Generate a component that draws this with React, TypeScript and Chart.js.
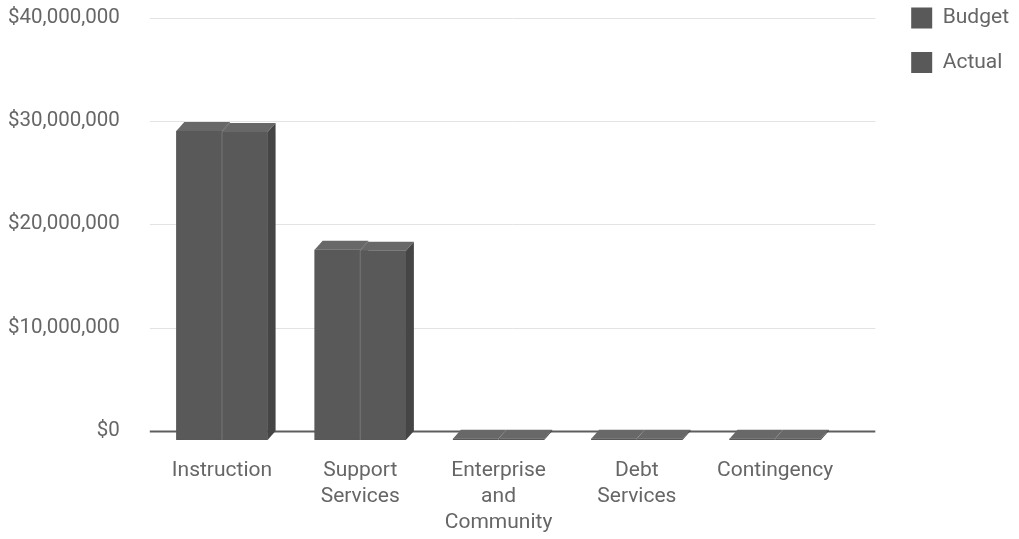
import React, { useEffect, useRef } from "react";
import { Chart, registerables } from "chart.js";

Chart.register(...registerables);

const categories: string[][] = [
  ["Instruction"],
  ["Support", "Services"],
  ["Enterprise", "and", "Community"],
  ["Debt", "Services"],
  ["Contingency"],
];
const seriesNames = ["Budget", "Actual"];
const budget = [29900000, 18400000, 120000, 120000, 120000];
const actual = [29800000, 18300000, 120000, 120000, 120000];
const yMin = 0;
const yMax = 40000000;
const yStep = 10000000;

const DX = 8;
const DY = 9;
const FRONT = "#595959";
const TOP = "#686868";
const SIDE = "#454545";
const TEXT = "#666666";
const FONT = "Roboto";
const LEGEND_SHIFT = 42.5;

const gridPlugin = {
  id: "grid3d",
  beforeDatasetsDraw(chart: any) {
    const { ctx, chartArea } = chart;
    const ys = chart.scales.y;
    ctx.save();
    ys.ticks.forEach((t: any) => {
      const py = Math.round(ys.getPixelForValue(t.value) - DY) + 0.5;
      ctx.beginPath();
      if (t.value === 0) {
        ctx.strokeStyle = "#5e5e5e";
        ctx.lineWidth = 2;
      } else {
        ctx.strokeStyle = "#e3e3e3";
        ctx.lineWidth = 1;
      }
      ctx.moveTo(chartArea.left - 3, py);
      ctx.lineTo(chartArea.right + 31, py);
      ctx.stroke();
    });
    ctx.restore();
  },
};

const legendShiftPlugin = {
  id: "legendShift",
  afterLayout(chart: any) {
    const lg = chart.legend;
    if (lg) {
      lg.top -= LEGEND_SHIFT;
      lg.bottom -= LEGEND_SHIFT;
    }
  },
};

const bar3dPlugin = {
  id: "bar3d",
  afterDatasetsDraw(chart: any) {
    const ctx = chart.ctx;
    const metas = chart.getSortedVisibleDatasetMetas();
    const n = chart.data.labels.length;
    ctx.save();
    for (let i = 0; i < n; i++) {
      metas.forEach((meta: any, di: number) => {
        const el = meta.data[i];
        if (!el) return;
        const { x, y, base, width } = el.getProps(["x", "y", "base", "width"], true);
        const L = x - width / 2;
        const R = x + width / 2;
        ctx.fillStyle = FRONT;
        ctx.fillRect(L, y, width, base - y);
        ctx.fillStyle = TOP;
        ctx.beginPath();
        ctx.moveTo(L, y);
        ctx.lineTo(R, y);
        ctx.lineTo(R + DX, y - DY);
        ctx.lineTo(L + DX, y - DY);
        ctx.closePath();
        ctx.fill();
        ctx.fillStyle = SIDE;
        ctx.beginPath();
        ctx.moveTo(R, y);
        ctx.lineTo(R + DX, y - DY);
        ctx.lineTo(R + DX, base - DY);
        ctx.lineTo(R, base);
        ctx.closePath();
        ctx.fill();
        if (di > 0) {
          ctx.strokeStyle = "rgba(255,255,255,0.2)";
          ctx.lineWidth = 1;
          ctx.beginPath();
          ctx.moveTo(L, base);
          ctx.lineTo(L, y);
          ctx.lineTo(L + DX, y - DY);
          ctx.stroke();
        }
      });
    }
    ctx.restore();
  },
};

export default function App() {
  const ref = useRef<HTMLCanvasElement | null>(null);
  useEffect(() => {
    if (!ref.current) return;
    const chart = new Chart(ref.current, {
      type: "bar",
      data: {
        labels: categories,
        datasets: [
          { label: seriesNames[0], data: budget, backgroundColor: FRONT, borderWidth: 0 },
          { label: seriesNames[1], data: actual, backgroundColor: FRONT, borderWidth: 0 },
        ],
      },
      options: {
        animation: false,
        responsive: true,
        maintainAspectRatio: false,
        layout: { padding: { top: 26.5, bottom: -15, left: 0, right: 0 } },
        datasets: { bar: { categoryPercentage: 0.66, barPercentage: 1.0 } },
        plugins: {
          tooltip: { enabled: false },
          legend: {
            position: "right",
            align: "start",
            labels: {
              boxWidth: 21,
              boxHeight: 21,
              padding: 23.5,
              color: TEXT,
              font: { family: FONT, size: 21 },
            },
          },
        },
        scales: {
          x: {
            grid: { display: false, drawTicks: false },
            border: { display: false },
            ticks: {
              color: TEXT,
              font: { family: FONT, size: 21, lineHeight: 1.24 },
              padding: 18,
              maxRotation: 0,
              autoSkip: false,
            },
          },
          y: {
            min: yMin,
            max: yMax,
            grid: { display: false, drawTicks: true, tickLength: 30 },
            border: { display: false },
            ticks: {
              stepSize: yStep,
              color: TEXT,
              font: { family: FONT, size: 20.5 },
              padding: 3,
              labelOffset: -DY,
              callback: (v: any) => "$" + Number(v).toLocaleString("en-US"),
            },
            afterFit: (s: any) => {
              s.width = 152.8;
            },
          },
          yR: {
            type: "linear",
            position: "right",
            display: true,
            grid: { display: false, drawTicks: false },
            border: { display: false },
            ticks: { display: false },
            afterFit: (s: any) => {
              s.width = 43.4;
            },
          },
        },
      },
      plugins: [gridPlugin, bar3dPlugin, legendShiftPlugin],
    } as any);
    return () => chart.destroy();
  }, []);
  return (
    <div style={{ position: "absolute", left: 0, top: 0, width: 1019, height: 539 }}>
      <canvas ref={ref} />
    </div>
  );
}
